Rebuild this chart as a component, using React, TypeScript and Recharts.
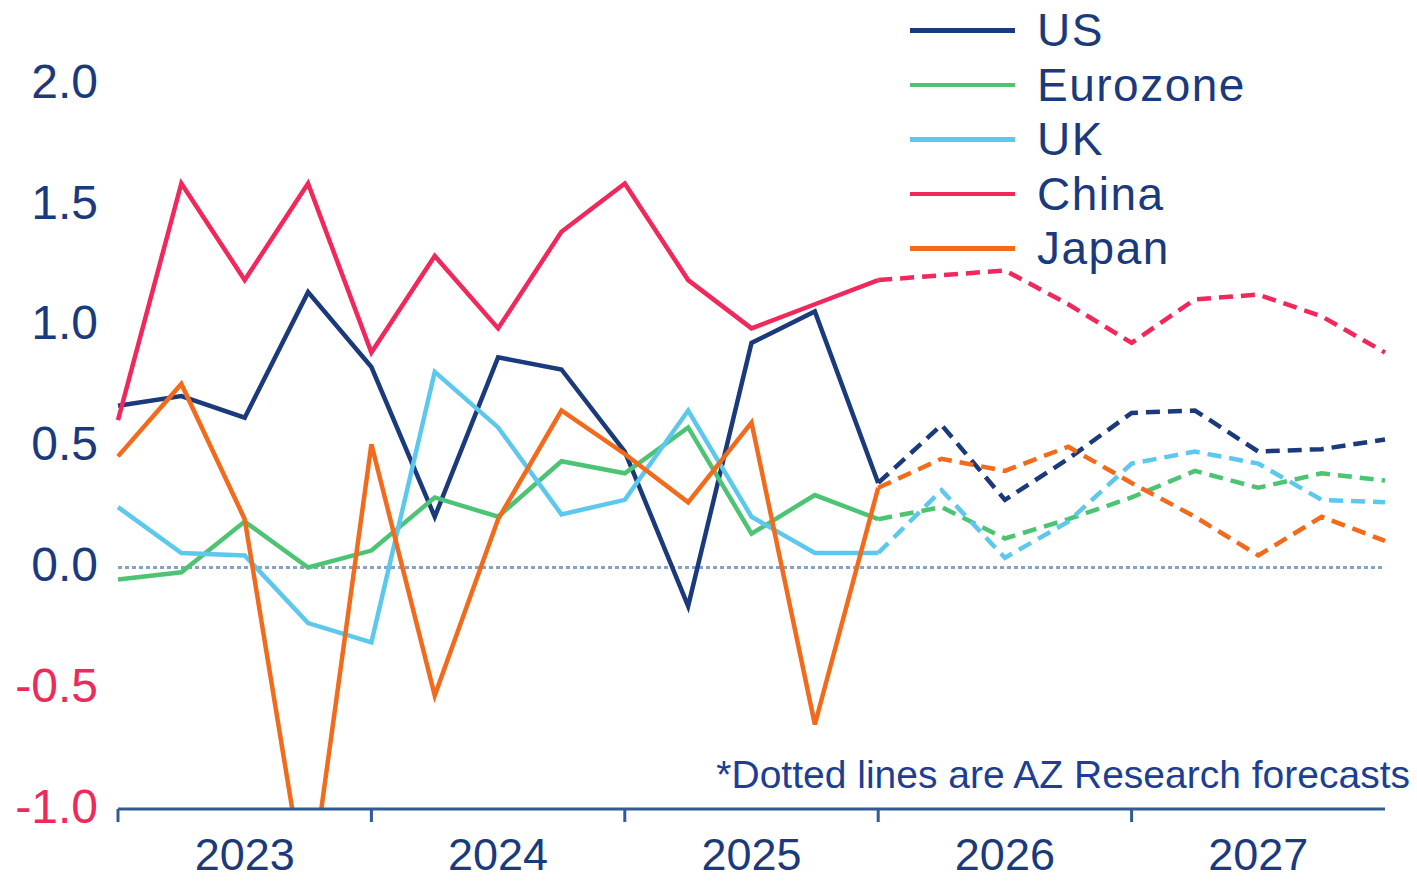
import { LineChart, Line, XAxis, YAxis, ReferenceLine } from "recharts";

// quarters, year boundaries fall on the Q4 points
const quarters = [
  "2022Q4",
  "2023Q1", "2023Q2", "2023Q3", "2023Q4",
  "2024Q1", "2024Q2", "2024Q3", "2024Q4",
  "2025Q1", "2025Q2", "2025Q3", "2025Q4",
  "2026Q1", "2026Q2", "2026Q3", "2026Q4",
  "2027Q1", "2027Q2", "2027Q3", "2027Q4",
];
const yearLabels = ["2023", "2024", "2025", "2026", "2027"];
const yTicks = [-1, -0.5, 0, 0.5, 1, 1.5, 2];

// actuals up to 2025Q4, forecasts after
const usActual = [0.67, 0.71, 0.62, 1.14, 0.83, 0.21, 0.87, 0.82, 0.48, -0.16, 0.93, 1.06, 0.35];
const usForecast = [0.59, 0.28, 0.45, 0.64, 0.65, 0.48, 0.49, 0.53];
const ezActual = [-0.05, -0.02, 0.19, 0.0, 0.07, 0.29, 0.21, 0.44, 0.39, 0.58, 0.14, 0.3, 0.2];
const ezForecast = [0.25, 0.12, 0.2, 0.29, 0.4, 0.33, 0.39, 0.36];
const ukActual = [0.25, 0.06, 0.05, -0.23, -0.31, 0.81, 0.58, 0.22, 0.28, 0.65, 0.21, 0.06, 0.06];
const ukForecast = [0.32, 0.04, 0.19, 0.43, 0.48, 0.43, 0.28, 0.27];
const cnActual = [0.61, 1.59, 1.19, 1.59, 0.89, 1.29, 0.99, 1.39, 1.59, 1.19, 0.99, 1.09, 1.19];
const cnForecast = [1.21, 1.23, 1.09, 0.93, 1.11, 1.13, 1.04, 0.89];
const jpActual = [0.46, 0.76, 0.2, -1.4, 0.51, -0.53, 0.2, 0.65, 0.47, 0.27, 0.6, -0.65, 0.33];
const jpForecast = [0.45, 0.4, 0.5, 0.35, 0.21, 0.05, 0.21, 0.11];

const NAVY = "#1b3a7c";
const RED = "#ec2a5c";

const series = [
  { key: "us", name: "US", color: "#1b3a7c", actual: usActual, forecast: usForecast },
  { key: "ez", name: "Eurozone", color: "#4dc473", actual: ezActual, forecast: ezForecast },
  { key: "uk", name: "UK", color: "#5cc8ee", actual: ukActual, forecast: ukForecast },
  { key: "cn", name: "China", color: "#f0285c", actual: cnActual, forecast: cnForecast },
  { key: "jp", name: "Japan", color: "#f26b1c", actual: jpActual, forecast: jpForecast },
];

const last = usActual.length - 1;
const data = quarters.map((q, i) => {
  const row: Record<string, string | number | null> = { q };
  series.forEach((s) => {
    row[s.key + "A"] = i <= last ? s.actual[i] : null;
    row[s.key + "F"] = i < last ? null : i === last ? s.actual[last] : s.forecast[i - last - 1];
  });
  return row;
});

const FONT = "'Liberation Sans', Arial, sans-serif";

function YTick(props: any) {
  const { x, y, payload } = props;
  return (
    <text
      x={x}
      y={y - 3}
      textAnchor="end"
      dominantBaseline="central"
      fontSize={48}
      fontFamily={FONT}
      fill={payload.value < 0 ? RED : NAVY}
    >
      {payload.value.toFixed(1)}
    </text>
  );
}

function XTick(props: any) {
  const { x, y, payload, index } = props;
  const v: string = payload.value;
  if (v.endsWith("Q4") && index < quarters.length - 1) {
    return <line x1={x} x2={x} y1={y} y2={y + 13} stroke="#2e5b9a" strokeWidth={3} />;
  }
  if (v.endsWith("Q2")) {
    return (
      <text x={x} y={y + 45} textAnchor="middle" dominantBaseline="central" fontSize={45} fontFamily={FONT} fill={NAVY}>
        {yearLabels.indexOf(v.slice(0, 4)) >= 0 ? v.slice(0, 4) : ""}
      </text>
    );
  }
  return <g />;
}

export default function App() {
  return (
    <div style={{ position: "absolute", left: 0, top: 0, width: 1417, height: 882, background: "#fff", fontFamily: FONT }}>
      <LineChart width={1417} height={882} data={data} margin={{ top: 12, right: 32, left: 0, bottom: 0 }}>
        <XAxis
          dataKey="q"
          interval={0}
          tickSize={0}
          tickMargin={0}
          tickLine={false}
          height={73}
          axisLine={{ stroke: "#2e5b9a", strokeWidth: 3 }}
          tick={<XTick />}
        />
        <YAxis
          type="number"
          domain={[-1, 2.3]}
          allowDataOverflow
          ticks={yTicks}
          width={118}
          tickSize={0}
          tickMargin={20}
          axisLine={false}
          tickLine={false}
          tick={<YTick />}
        />
        <ReferenceLine y={0} stroke="#86a3c6" strokeWidth={3} strokeDasharray="4 3" />
        {series.map((s) => (
          <Line
            key={s.key + "A"}
            dataKey={s.key + "A"}
            stroke={s.color}
            strokeWidth={4.5}
            dot={false}
            activeDot={false}
            type="linear"
            isAnimationActive={false}
          />
        ))}
        {series.map((s) => (
          <Line
            key={s.key + "F"}
            dataKey={s.key + "F"}
            stroke={s.color}
            strokeWidth={4.5}
            strokeDasharray="14 8"
            dot={false}
            activeDot={false}
            type="linear"
            isAnimationActive={false}
          />
        ))}
      </LineChart>

      <div style={{ position: "absolute", left: 910, top: 3 }}>
        {series.map((s) => (
          <div key={s.key} style={{ display: "flex", alignItems: "center", height: 54.5 }}>
            <div style={{ width: 105, height: 4.5, background: s.color, marginRight: 22 }} />
            <span style={{ fontSize: 46, color: NAVY, letterSpacing: 1.5, lineHeight: "54px" }}>{s.name}</span>
          </div>
        ))}
      </div>

      <div
        style={{
          position: "absolute",
          right: 7,
          top: 752,
          fontSize: 39,
          color: "#1c3f94",
          whiteSpace: "nowrap",
          lineHeight: "46px",
        }}
      >
        *Dotted lines are AZ Research forecasts
      </div>
    </div>
  );
}
